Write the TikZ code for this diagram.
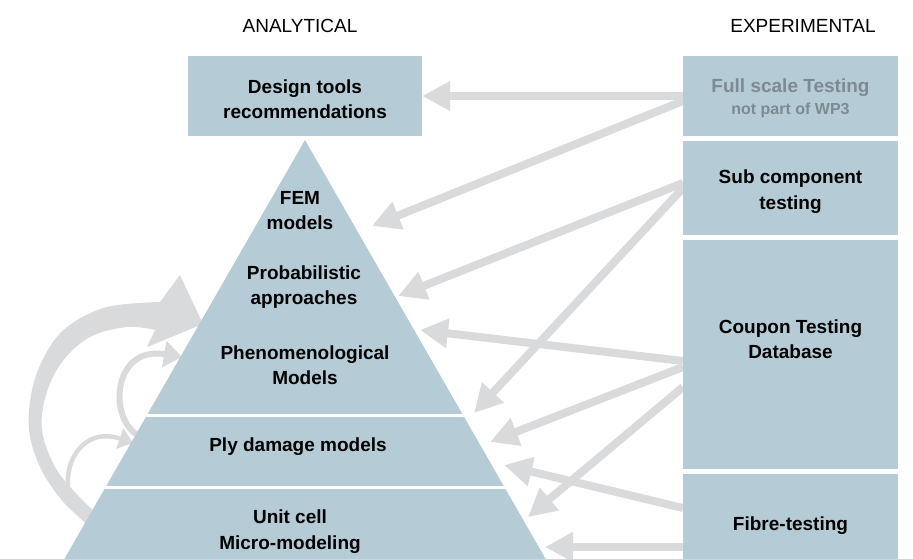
\documentclass[tikz,border=0pt]{standalone}
\usepackage{fontspec}
\setmainfont{Liberation Sans}
\usetikzlibrary{arrows.meta}

\definecolor{boxblue}{HTML}{B5CCD6}
\definecolor{flowgray}{HTML}{D9DADC}
\definecolor{fadetext}{HTML}{7D8A91}

\tikzset{
  box/.style={fill=boxblue, inner sep=0pt, minimum width=215pt},
  lbl/.style={font=\bfseries\fontsize{19}{25.5}\selectfont, align=center, yshift=-2.5pt},
  title/.style={font=\fontsize{19}{22}\selectfont},
  flow/.style={draw=flowgray, line width=8pt, -{Triangle[length=28pt,width=28pt]}},
  loopback/.style={draw=flowgray},
}

\begin{document}
\begin{tikzpicture}[x=1pt, y=-1pt]
  \useasboundingbox (0,0) rectangle (913,558);

  % Titles
  \node[title] (ana) at (300,26) {ANALYTICAL};
  \node[title] (exp) at (803,26) {EXPERIMENTAL};

  % Loops on the left of the pyramid
  \fill[flowgray] plot[smooth, tension=0.6] coordinates {(110,545) (80,518) (60,498) (40,467) (29,430) (32,390) (45,355) (67,327) (107,307) (160,302)}
    -- (180,275) -- (203,324) -- (147,347) -- (155,330)
    -- plot[smooth, tension=0.6] coordinates {(155,330) (127,327) (90,337) (62,362) (46,395) (42,430) (54,465) (72,489) (98,515) (120,533)} -- cycle;
  \draw[loopback, line width=6pt, -{Triangle[length=18pt,width=26pt]}] (142,437) .. controls (108,425) and (110,345) .. (182,357);
  \draw[loopback, line width=4.5pt, -{Triangle[length=14pt,width=21pt]}] (72,503) .. controls (58,470) and (80,425) .. (133,443);

  % Pyramid
  \coordinate (apex) at (305,140);
  \coordinate (pl) at (58,570);
  \coordinate (pr) at (552,570);
  \fill[boxblue] (apex) -- (pr) -- (pl) -- cycle;
  \begin{scope}
    \clip (apex) -- (pr) -- (pl) -- cycle;
    \draw[white, line width=3pt] (0,415) -- (600,415);
    \draw[white, line width=3pt] (0,487) -- (600,487);
  \end{scope}

  \node[lbl] (fem) at (300,208) {FEM\\models};
  \node[lbl] (prob) at (304,284.5) {Probabilistic\\approaches};
  \node[lbl] (phen) at (305,362.5) {Phenomenological\\Models};
  \node[lbl] (ply) at (298,444) {Ply damage models};
  \node[lbl] (unit) at (290,529) {Unit cell\\Micro-modeling};

  % Arrow ends
  \coordinate (fA) at (683,96);
  \coordinate (fB) at (683,101);
  \coordinate (sA) at (683,183);
  \coordinate (sB) at (683,188);
  \coordinate (cA) at (683,361);
  \coordinate (cB) at (683,367);
  \coordinate (cC) at (683,387);
  \coordinate (bA) at (683,508);
  \coordinate (bB) at (683,547);
  \coordinate (femtip) at (372,226);
  \coordinate (probtip) at (398,296);
  \coordinate (edgetip) at (474,413);
  \coordinate (phentip) at (420,330);
  \coordinate (plytip) at (490,442);
  \coordinate (plytipB) at (504,465);
  \coordinate (unittip) at (528,517);
  \coordinate (unittipB) at (545,547);

  % Design box
  \node[box, minimum width=234pt, minimum height=80pt] (design) at (305,96) {};
  \node[lbl] (designtxt) at (305,96.5) {Design tools\\recommendations};

  % Arrows
  \draw[flow] (fA) -- (design.east);
  \draw[flow] (fB) -- (femtip);
  \draw[flow] (sA) -- (probtip);
  \draw[flow] (sB) -- (edgetip);
  \draw[flow] (cA) -- (phentip);
  \draw[flow] (cB) -- (plytip);
  \draw[flow] (cC) -- (unittip);
  \draw[flow] (bA) -- (plytipB);
  \draw[flow] (bB) -- (unittipB);

  % Experimental side
  \node[box, minimum height=80pt] (full) at (790.5,96) {};
  \node[lbl, text=fadetext] (fulltxt) at (790.5,96)
    {Full scale Testing\\[-4pt]{\fontsize{16}{18}\selectfont not part of WP3}};
  \node[box, minimum height=94pt] (sub) at (790.5,188) {};
  \node[lbl] (subtxt) at (790.5,189) {Sub component\\testing};
  \node[box, minimum height=229pt] (coupon) at (790.5,354.5) {};
  \node[lbl] (coupontxt) at (790.5,336.5) {Coupon Testing\\Database};
  \node[box, minimum height=100pt] (fibre) at (790.5,524) {};
  \node[lbl] (fibretxt) at (790.5,523) {Fibre-testing};
\end{tikzpicture}
\end{document}
